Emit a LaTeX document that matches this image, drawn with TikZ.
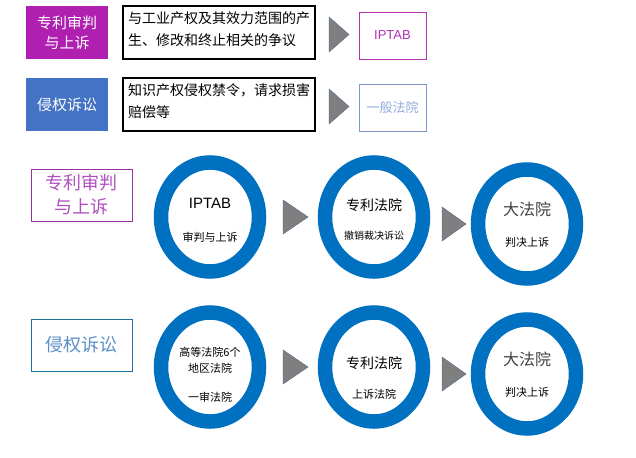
\documentclass[tikz,border=0pt]{standalone}
\usepackage{fontspec}
\setmainfont{Noto Sans CJK SC}
\newfontfamily\latinf{Liberation Sans}
\usetikzlibrary{shapes.geometric}
\definecolor{purfill}{HTML}{B020B0}
\definecolor{bluefill}{HTML}{4472C4}
\definecolor{magline}{HTML}{B030B0}
\definecolor{ltblue}{HTML}{7A98CC}
\definecolor{ltbluetext}{HTML}{8FAADC}
\definecolor{purline}{HTML}{9B30A0}
\definecolor{purtext}{HTML}{B050C0}
\definecolor{tealline}{HTML}{2070A0}
\definecolor{tealtext}{HTML}{5B8FC8}
\definecolor{ring}{HTML}{0070C0}
\definecolor{trigray}{HTML}{7F7F7F}
\definecolor{triline}{HTML}{5A7090}
\tikzset{
  catbox/.style={minimum width=82pt, minimum height=53pt, inner sep=0pt, align=center, font=\fontsize{15}{20}\selectfont, text=white},
  descbox/.style={draw=black, line width=1.2pt, minimum width=192pt, minimum height=53pt, inner sep=0pt},
  desctext/.style={anchor=north west, align=left, inner sep=0pt, font=\fontsize{14}{22}\selectfont},
  courtbox/.style={minimum width=67pt, minimum height=47pt, inner sep=0pt, line width=0.9pt, font=\fontsize{13}{15}\selectfont},
  bigbox/.style={minimum width=101pt, minimum height=52pt, inner sep=0pt, line width=1pt, align=center, font=\fontsize{18}{24}\selectfont},
  ringnode/.style={ellipse, draw=ring, line width=14.5pt, minimum width=98pt, minimum height=109pt, inner sep=0pt},
  tri/.style={fill=trigray, draw=triline, line width=0.5pt},
  ctitle/.style={inner sep=0pt, font=\fontsize{14}{16}\selectfont},
  csub/.style={inner sep=0pt, font=\fontsize{11}{16}\selectfont, align=center},
}
\begin{document}
\begin{tikzpicture}[x=1pt,y=-1pt]
\useasboundingbox (0,0) rectangle (636,457);
% Row 1
\node[catbox, fill=purfill] (c1) at (67,32.5) {专利审判\\与上诉};
\node[descbox] (d1) at (219,32.5) {};
\node[desctext] (t1) at (128,11) {与工业产权及其效力范围的产\\生、修改和终止相关的争议};
\filldraw[tri] (329,17) -- (349,34.5) -- (329,52) -- cycle;
\node[courtbox, draw=magline, text=magline] (k1) at (392.5,35.5) {\latinf IPTAB};
% Row 2
\node[catbox, fill=bluefill] (c2) at (67,104.5) {侵权诉讼};
\node[descbox] (d2) at (219,104.5) {};
\node[desctext] (t2) at (128,83) {知识产权侵权禁令，请求损害\\赔偿等};
\filldraw[tri] (329,89) -- (349,106.5) -- (329,124) -- cycle;
\node[courtbox, draw=ltblue, text=ltbluetext] (k2) at (392.5,107.5) {一般法院};
% Row 3
\node[bigbox, draw=purline, text=purtext] (b3) at (81.5,195) {专利审判\\与上诉};
\node[ringnode] (r31) at (210,217) {};
\node[ctitle, font=\latinf\fontsize{15}{16}\selectfont] (r31a) at (210,203) {IPTAB};
\node[csub] (r31b) at (210,237) {审判与上诉};
\filldraw[tri] (283,200) -- (308,217) -- (283,234) -- cycle;
\node[ringnode] (r32) at (374,217) {};
\node[ctitle] (r32a) at (374,205) {专利法院};
\node[csub, font=\fontsize{10}{12}\selectfont] (r32b) at (374,236) {撤销裁决诉讼};
\filldraw[tri] (442,207) -- (466,224) -- (442,241) -- cycle;
\node[ringnode] (r33) at (527,224) {};
\node[ctitle, font=\fontsize{16}{18}\selectfont, text=black!75] (r33a) at (527,209) {大法院};
\node[csub] (r33b) at (527,242) {判决上诉};
% Row 4
\node[bigbox, draw=tealline, text=tealtext] (b4) at (81.5,345) {侵权诉讼};
\node[ringnode] (r41) at (210,367) {};
\node[csub] (r41a) at (210,360) {高等法院6个\\地区法院};
\node[csub] (r41b) at (210,397) {一审法院};
\filldraw[tri] (283,350) -- (308,367) -- (283,384) -- cycle;
\node[ringnode] (r42) at (374,367) {};
\node[ctitle] (r42a) at (374,363) {专利法院};
\node[csub] (r42b) at (374,394) {上诉法院};
\filldraw[tri] (442,357) -- (466,374) -- (442,391) -- cycle;
\node[ringnode] (r43) at (527,374) {};
\node[ctitle, font=\fontsize{16}{18}\selectfont, text=black!75] (r43a) at (527,359) {大法院};
\node[csub] (r43b) at (527,392) {判决上诉};
\end{tikzpicture}
\end{document}
